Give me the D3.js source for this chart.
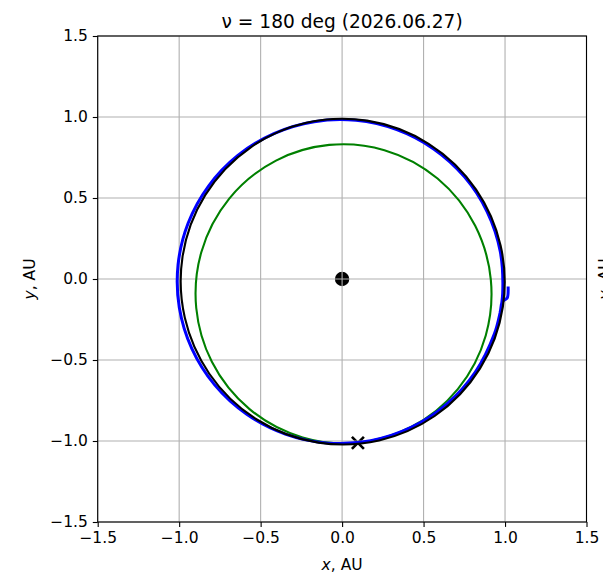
<!DOCTYPE html>
<html>
<head>
<meta charset="utf-8">
<script src="https://cdn.jsdelivr.net/npm/d3@7"></script>
<style>
  html, body { margin: 0; background: #fff; overflow: hidden; }
  svg { display: block; }
  text { font-family: "DejaVu Sans", sans-serif; fill: #000; }
</style>
</head>
<body>
<svg id="chart" width="603" height="576"></svg>
<script>
// ---- data -------------------------------------------------------------
const titleText = "\u03bd = 180 deg (2026.06.27)";
const xTicks = [-1.5, -1.0, -0.5, 0.0, 0.5, 1.0, 1.5];
const yTicks = [-1.5, -1.0, -0.5, 0.0, 0.5, 1.0, 1.5];
const xDomain = [-1.5, 1.5];
const yDomain = [-1.5, 1.5];

// Orbits as conic elements: semi-major axis [AU], eccentricity, longitude of perihelion [deg]
const earthOrbit = { a: 1.0, e: 0.0167, lonPeri: 102.9 };
const sailOrbit  = { a: 0.918, e: 0.10, lonPeri: 95.5 };

// Flown trajectory, heliocentric polar samples: [longitude deg, radius AU]
const trajectory = [
  [-2.6, 1.020], [-6.6, 1.020], [-7.4, 1.004], [-8.4, 0.992], [-12, 0.9918],
  [-20, 0.9942], [-35, 0.9994],
  [-50, 1.0045], [-65, 1.0094], [-80, 1.0137], [-95, 1.0170], [-110, 1.0191],
  [-125, 1.0200], [-140, 1.0195], [-155, 1.0176], [-170, 1.0146], [-185, 1.0106],
  [-200, 1.0058], [-215, 1.0007], [-230, 0.9955], [-245, 0.9906], [-260, 0.9863],
  [-275, 0.9830], [-290, 0.9809], [-305, 0.9800], [-320, 0.9805], [-335, 0.9824],
  [-350, 0.9854], [-365, 0.9894], [-372, 0.9916]
];

const sunPos = [0.0, 0.0];
const craftPos = [0.097, -1.012];

// ---- layout -------------------------------------------------------------
const svg = d3.select("#chart");
const plot = { left: 97.7, right: 586.5, top: 36, bottom: 522 };

const x = d3.scaleLinear().domain(xDomain).range([plot.left, plot.right]);
const y = d3.scaleLinear().domain(yDomain).range([plot.bottom, plot.top]);

const fs = 15.5;

// Sun marker (sits beneath the grid)
svg.append("circle")
  .attr("cx", x(sunPos[0])).attr("cy", y(sunPos[1]))
  .attr("r", 7.2).attr("fill", "#000");

// Current position marker
const mk = 6;
const cp = [x(craftPos[0]), y(craftPos[1])];
svg.append("path")
  .attr("d", `M${cp[0]-mk},${cp[1]-mk}L${cp[0]+mk},${cp[1]+mk}M${cp[0]-mk},${cp[1]+mk}L${cp[0]+mk},${cp[1]-mk}`)
  .attr("stroke", "#000").attr("stroke-width", 2.6).attr("fill", "none");

// Grid
const grid = svg.append("g").attr("stroke", "#b0b0b0").attr("stroke-width", 1.1);
grid.selectAll("line.gx").data(xTicks).join("line")
  .attr("x1", d => x(d)).attr("x2", d => x(d))
  .attr("y1", plot.top).attr("y2", plot.bottom);
grid.selectAll("line.gy").data(yTicks).join("line")
  .attr("y1", d => y(d)).attr("y2", d => y(d))
  .attr("x1", plot.left).attr("x2", plot.right);

// Clip for the data lines
svg.append("clipPath").attr("id", "plotClip").append("rect")
  .attr("x", plot.left).attr("y", plot.top)
  .attr("width", plot.right - plot.left).attr("height", plot.bottom - plot.top);
const lines = svg.append("g").attr("clip-path", "url(#plotClip)");

// Orbit ellipse with the Sun at one focus
function drawOrbit(o, color, width) {
  const w = o.lonPeri * Math.PI / 180;
  const c = o.a * o.e;
  const cx = -c * Math.cos(w), cy = -c * Math.sin(w);
  const b = o.a * Math.sqrt(1 - o.e * o.e);
  const px = x(cx), py = y(cy);
  lines.append("ellipse")
    .attr("cx", px).attr("cy", py)
    .attr("rx", x(o.a) - x(0)).attr("ry", y(0) - y(b))
    .attr("transform", `rotate(${-o.lonPeri},${px},${py})`)
    .attr("fill", "none").attr("stroke", color).attr("stroke-width", width);
}

drawOrbit(sailOrbit, "#008000", 2.1);

const toXY = d => {
  const t = d[0] * Math.PI / 180;
  return [d[1] * Math.cos(t), d[1] * Math.sin(t)];
};
const line = d3.line()
  .x(d => x(toXY(d)[0]))
  .y(d => y(toXY(d)[1]))
  .curve(d3.curveCatmullRom.alpha(0.5));
lines.append("path")
  .datum(trajectory)
  .attr("d", line)
  .attr("fill", "none").attr("stroke", "#0000ff").attr("stroke-width", 3);

drawOrbit(earthOrbit, "#000", 2.1);

// Axes
const tickLen = 4.9;
const xAxis = d3.axisBottom(x).tickValues(xTicks).tickSize(tickLen).tickPadding(4.9)
  .tickFormat(d => d3.format(".1f")(d).replace("-", "\u2212"));
const yAxis = d3.axisLeft(y).tickValues(yTicks).tickSize(tickLen).tickPadding(4.9)
  .tickFormat(d => d3.format(".1f")(d).replace("-", "\u2212"));

const gx = svg.append("g").attr("transform", `translate(0,${plot.bottom})`).call(xAxis);
const gy = svg.append("g").attr("transform", `translate(${plot.left},0)`).call(yAxis);
[gx, gy].forEach(g => {
  g.select(".domain").remove();
  g.selectAll(".tick line").attr("stroke", "#000").attr("stroke-width", 1.1);
  g.selectAll(".tick text").attr("font-size", fs).attr("font-family", "DejaVu Sans").attr("fill", "#000");
});

// Frame
svg.append("rect")
  .attr("x", plot.left).attr("y", plot.top)
  .attr("width", plot.right - plot.left).attr("height", plot.bottom - plot.top)
  .attr("fill", "none").attr("stroke", "#000").attr("stroke-width", 1.1);

// Title
svg.append("text")
  .attr("x", (plot.left + plot.right) / 2).attr("y", 27.5)
  .attr("text-anchor", "middle").attr("font-size", 18.6)
  .text(titleText);

// Axis labels
const xl = svg.append("text")
  .attr("x", (plot.left + plot.right) / 2).attr("y", 570)
  .attr("text-anchor", "middle").attr("font-size", fs);
xl.append("tspan").attr("font-style", "italic").text("x");
xl.append("tspan").text(", AU");

const yl = svg.append("text")
  .attr("transform", `translate(35,${(plot.top + plot.bottom) / 2}) rotate(-90)`)
  .attr("text-anchor", "middle").attr("font-size", fs);
yl.append("tspan").attr("font-style", "italic").text("y");
yl.append("tspan").text(", AU");

// Neighbouring panel's axis label, cut by the page edge
const yl2 = svg.append("text")
  .attr("transform", `translate(610,${(plot.top + plot.bottom) / 2}) rotate(-90)`)
  .attr("text-anchor", "middle").attr("font-size", fs);
yl2.append("tspan").attr("font-style", "italic").text("y");
yl2.append("tspan").text(", AU");
</script>
</body>
</html>
